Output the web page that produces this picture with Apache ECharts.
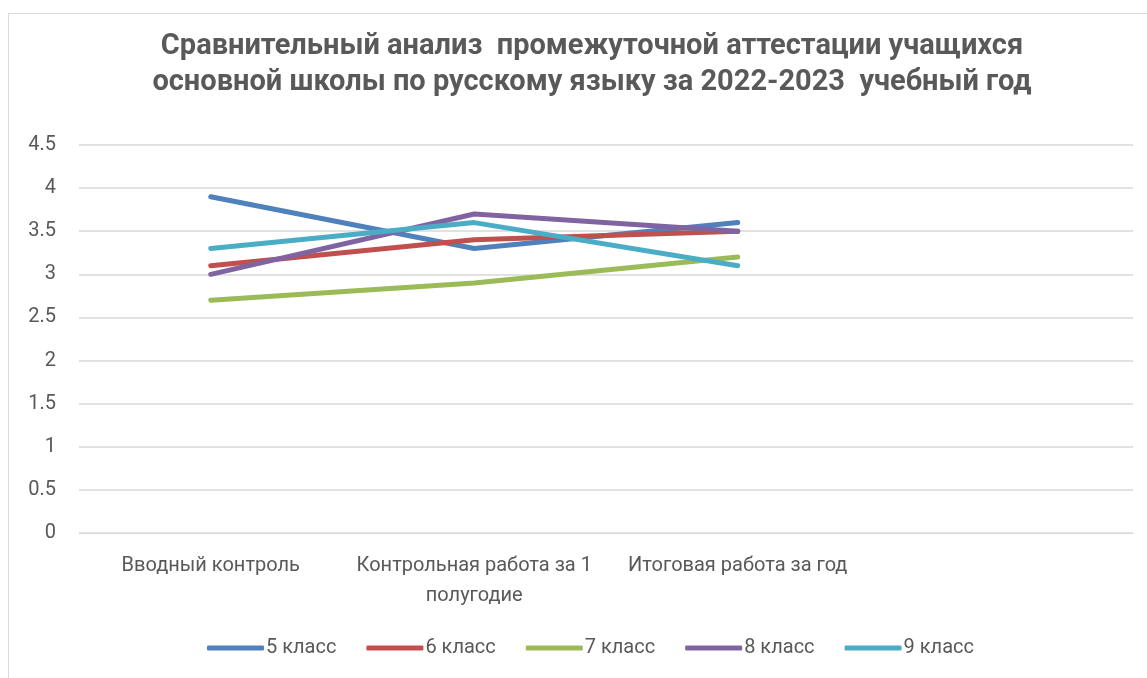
<!DOCTYPE html>
<html>
<head>
<meta charset="utf-8">
<script src="https://cdn.jsdelivr.net/npm/echarts@6/dist/echarts.min.js"></script>
<style>
  html, body { margin: 0; padding: 0; background: #fff; }
  #frame { position: absolute; left: 8px; top: 13px; width: 1200px; height: 700px; border: 1px solid #d9d9d9; box-sizing: border-box; }
  #chart { position: absolute; left: 0; top: 0; width: 1147px; height: 678px; }
</style>
</head>
<body>
<div id="frame"></div>
<div id="chart"></div>
<script>
const categories = ['Вводный контроль', 'Контрольная работа за 1\nполугодие', 'Итоговая работа за год', ''];
const seriesNames = ['5 класс', '6 класс', '7 класс', '8 класс', '9 класс'];
const grade5 = [3.9, 3.3, 3.6];
const grade6 = [3.1, 3.4, 3.5];
const grade7 = [2.7, 2.9, 3.2];
const grade8 = [3.0, 3.7, 3.5];
const grade9 = [3.3, 3.6, 3.1];
const colors = ['#4F81BD', '#C0504D', '#9BBB59', '#8064A2', '#4BACC6'];

const font = 'Roboto, "Open Sans", sans-serif';
const textColor = '#595959';

const chart = echarts.init(document.getElementById('chart'), null, { renderer: 'canvas' });

const seriesData = [grade5, grade6, grade7, grade8, grade9];

const option = {
    backgroundColor: 'transparent',
    animation: false,
    color: colors,
    title: {
        text: 'Сравнительный анализ  промежуточной аттестации учащихся\nосновной школы по русскому языку за 2022-2023  учебный год',
        left: 587,
        top: 24,
        textAlign: 'center',
        textStyle: {
            fontFamily: font,
            fontSize: 29,
            fontWeight: 'bold',
            color: textColor,
            lineHeight: 36,
        },
    },
    grid: { left: 79, right: 14, top: 145, bottom: 145, containLabel: false },
    xAxis: {
        type: 'category',
        data: categories,
        boundaryGap: true,
        axisLine: { show: true, lineStyle: { color: '#d9d9d9', width: 1 } },
        axisTick: { show: false },
        axisLabel: {
            interval: 0,
            margin: 18,
            color: textColor,
            fontFamily: font,
            fontSize: 20,
            lineHeight: 30,
            overflow: 'none',
            hideOverlap: false,
        },
    },
    yAxis: {
        type: 'value',
        min: 0,
        max: 4.5,
        interval: 0.5,
        axisLine: { show: false },
        axisTick: { show: false },
        axisLabel: { margin: 23, color: textColor, fontFamily: font, fontSize: 20 },
        splitLine: { lineStyle: { color: '#d9d9d9', width: 1.5 } },
    },
    legend: {
        bottom: 15,
        left: 202,
        icon: 'roundRect',
        itemWidth: 57,
        itemHeight: 5,
        itemGap: 30,
        textStyle: { color: textColor, fontFamily: font, fontSize: 20, padding: [0, 0, 0, -3] },
        data: seriesNames,
    },
    series: seriesNames.map((name, i) => ({
        name,
        type: 'line',
        data: seriesData[i],
        symbol: 'none',
        lineStyle: { width: 5, color: colors[i], cap: 'round', join: 'round' },
        itemStyle: { color: colors[i] },
    })),
};

chart.setOption(option);
</script>
</body>
</html>
